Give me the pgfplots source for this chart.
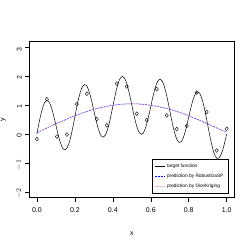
\documentclass[border=0pt]{standalone}
\usepackage{pgfplots}
\pgfplotsset{compat=1.18}
\usepackage{fontspec}
\setmainfont{Liberation Sans}
\definecolor{rpink}{RGB}{255,150,160}
\begin{document}
\begin{tikzpicture}
\useasboundingbox (0bp,0bp) rectangle (249bp,249bp);
\begin{axis}[
  at={(29.3bp,51.3bp)}, anchor=south west,
  width=205bp, height=156.4bp, scale only axis,
  xmin=-0.04, xmax=1.04, ymin=-2.2, ymax=3.2,
  xtick={0,0.2,0.4,0.6,0.8,1.0},
  xticklabels={0.0,0.2,0.4,0.6,0.8,1.0},
  ytick={-2,-1,0,1,2,3},
  yticklabels={$-2$,$-1$,0,1,2,3},
  tick align=outside, major tick length=4bp,
  xtick pos=bottom, ytick pos=left,
  tick style={black, line width=0.5pt},
  axis line style={line width=0.6pt},
  /pgf/number format/assume math mode=true,
  tick label style={font=\fontsize{7}{8}\selectfont},
  yticklabel style={rotate=90, anchor=south, xshift=-2pt},
  xticklabel style={yshift=-2pt},
  xlabel={x}, ylabel={y},
  label style={font=\fontsize{7}{8}\selectfont},
  xlabel style={at={(axis description cs:0.5,0)}, anchor=north, yshift=-31pt},
  ylabel style={at={(axis description cs:0,0.5)}, anchor=south, rotate=0, yshift=20pt},
  legend pos=south east,
  legend style={font=\fontsize{4.8}{5.6}\selectfont, draw=black, line width=0.5pt, inner xsep=2.5pt, inner ysep=2.2pt, row sep=1.0pt, cells={anchor=west}},
  legend cell align=left,
  legend image code/.code={\draw[#1] (0bp,0bp) -- (10bp,0bp);},
]
\addplot[black, line width=0.5pt, smooth] coordinates {
(0.00,0.000)(0.01,0.340)(0.02,0.651)(0.03,0.903)(0.04,1.076)(0.05,1.156)(0.06,1.139)(0.07,1.027)(0.08,0.837)(0.09,0.588)
(0.10,0.309)(0.11,0.030)(0.12,-0.220)(0.13,-0.412)(0.14,-0.525)(0.15,-0.546)(0.16,-0.469)(0.17,-0.300)(0.18,-0.052)(0.19,0.253)
(0.20,0.588)(0.21,0.922)(0.22,1.225)(0.23,1.470)(0.24,1.636)(0.25,1.707)(0.26,1.680)(0.27,1.559)(0.28,1.358)(0.29,1.099)
(0.30,0.809)(0.31,0.518)(0.32,0.257)(0.33,0.052)(0.34,-0.075)(0.35,-0.109)(0.36,-0.046)(0.37,0.109)(0.38,0.342)(0.39,0.632)
(0.40,0.951)(0.41,1.269)(0.42,1.556)(0.43,1.785)(0.44,1.933)(0.45,1.988)(0.46,1.943)(0.47,1.805)(0.48,1.586)(0.49,1.309)
(0.50,1.000)(0.51,0.691)(0.52,0.410)(0.53,0.187)(0.54,0.041)(0.55,-0.012)(0.56,0.031)(0.57,0.167)(0.58,0.381)(0.59,0.651)
(0.60,0.951)(0.61,1.250)(0.62,1.518)(0.63,1.727)(0.64,1.856)(0.65,1.891)(0.66,1.827)(0.67,1.670)(0.68,1.432)(0.69,1.136)
(0.70,0.809)(0.71,0.481)(0.72,0.183)(0.73,-0.059)(0.74,-0.222)(0.75,-0.293)(0.76,-0.267)(0.77,-0.148)(0.78,0.050)(0.79,0.304)
(0.80,0.588)(0.81,0.871)(0.82,1.124)(0.83,1.318)(0.84,1.433)(0.85,1.454)(0.86,1.377)(0.87,1.206)(0.88,0.956)(0.89,0.648)
(0.90,0.309)(0.91,-0.030)(0.92,-0.339)(0.93,-0.591)(0.94,-0.764)(0.95,-0.844)(0.96,-0.826)(0.97,-0.715)(0.98,-0.525)(0.99,-0.278)
(1.00,0.000)};
\addlegendentry{target function}
\addplot[blue, line width=0.5pt, smooth, dash pattern=on 2pt off 1pt] coordinates {
(0.00,0.04)(0.05,0.20)(0.10,0.35)(0.15,0.49)(0.20,0.63)(0.25,0.75)(0.30,0.85)(0.35,0.93)(0.40,0.99)(0.45,1.03)(0.50,1.04)
(0.55,1.03)(0.60,0.99)(0.65,0.93)(0.70,0.85)(0.75,0.75)(0.80,0.63)(0.85,0.49)(0.90,0.35)(0.95,0.20)(1.00,0.06)};
\addlegendentry{prediction by RobustGaSP}
\addplot[rpink, line width=0.5pt, smooth, dash pattern=on 0.8pt off 1pt] coordinates {
(0.00,0.04)(0.05,0.20)(0.10,0.35)(0.15,0.49)(0.20,0.63)(0.25,0.75)(0.30,0.85)(0.35,0.93)(0.40,0.99)(0.45,1.03)(0.50,1.04)
(0.55,1.03)(0.60,0.99)(0.65,0.93)(0.70,0.85)(0.75,0.75)(0.80,0.63)(0.85,0.49)(0.90,0.35)(0.95,0.20)(1.00,0.06)};
\addlegendentry{prediction by DiceKriging}
\addplot[only marks, mark=o, mark size=1.6pt, mark options={black, line width=0.4pt, yscale=1.2}, forget plot] coordinates {
(0.0000,-0.18)(0.0526,1.20)(0.1053,-0.09)(0.1579,-0.02)(0.2105,1.03)(0.2632,1.39)(0.3158,0.51)(0.3684,0.30)(0.4211,1.74)(0.4737,1.64)
(0.5263,0.70)(0.5789,0.48)(0.6316,1.55)(0.6842,0.64)(0.7368,0.17)(0.7895,0.28)(0.8421,1.43)(0.8947,0.76)(0.9474,-0.57)(1.0000,0.18)};
\end{axis}
\end{tikzpicture}
\end{document}
